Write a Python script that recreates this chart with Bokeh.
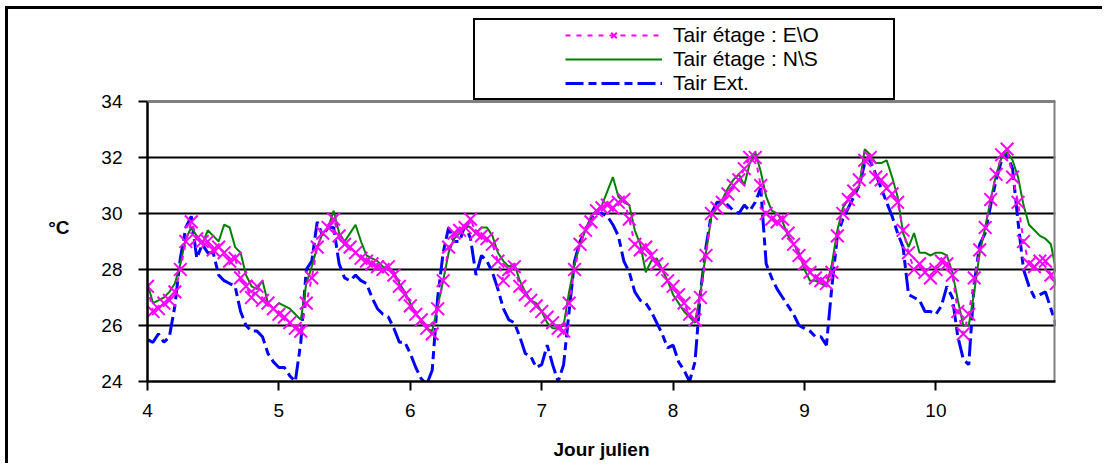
from bokeh.plotting import figure
from bokeh.layouts import column, row
from bokeh.models import (Range1d, FixedTicker, Legend, LegendItem, Span,
                          ColumnDataSource, Div, Spacer, LinearAxis)
from bokeh.embed import file_html
from bokeh.resources import INLINE

# ---------------- data (hourly readings, Jour julien 4 .. 10) ----------------
x_ticks = [4, 5, 6, 7, 8, 9, 10]
y_ticks = [24, 26, 28, 30, 32, 34]
start_day = 4

# Tair étage : E\O (hourly)
eo_d4 = [27.4, 26.5, 26.6, 26.8, 26.9, 27.2, 28.0, 29.0, 29.7, 29.1, 29.0, 29.0, 28.7, 28.8, 28.6, 28.3, 28.4, 27.7, 27.4, 27.0, 27.4, 26.9, 26.8, 26.6]
eo_d5 = [26.4, 26.3, 26.1, 25.9, 25.8, 26.8, 27.7, 28.8, 29.3, 29.5, 29.8, 29.2, 28.9, 28.8, 28.6, 28.4, 28.3, 28.2, 28.1, 28.0, 28.1, 27.8, 27.4, 27.1]
eo_d6 = [26.7, 26.4, 26.2, 25.9, 25.7, 26.6, 27.6, 28.8, 29.3, 29.4, 29.5, 29.8, 29.3, 29.2, 29.1, 28.9, 28.3, 27.6, 28.0, 28.1, 27.4, 27.1, 26.9, 26.7]
eo_d7 = [26.5, 26.3, 26.1, 25.9, 25.8, 26.8, 28.0, 28.9, 29.4, 29.7, 30.1, 30.2, 30.3, 30.2, 30.4, 30.5, 29.8, 28.9, 28.7, 28.8, 28.5, 28.2, 28.0, 27.6]
eo_d8 = [27.4, 27.1, 26.8, 26.4, 26.2, 27.0, 28.5, 30.0, 30.2, 30.4, 30.7, 31.0, 31.2, 31.6, 32.0, 32.0, 31.0, 30.0, 29.8, 29.7, 29.8, 29.3, 28.9, 28.5]
eo_d9 = [28.2, 27.9, 27.7, 27.6, 27.5, 27.9, 29.2, 30.0, 30.5, 30.8, 31.2, 31.9, 32.0, 31.3, 31.2, 30.9, 30.7, 30.4, 29.4, 28.6, 28.0, 28.2, 27.9, 27.7]
eo_d10 = [28.0, 28.3, 28.2, 27.8, 26.5, 25.7, 26.4, 27.7, 28.7, 29.5, 30.5, 31.4, 32.1, 32.3, 31.3, 30.4, 29.0, 28.2, 28.1, 28.3, 28.3, 27.8, 27.5]

# Tair étage : N\S (hourly)
ns_d4 = [27.5, 26.8, 26.9, 27.0, 27.2, 27.5, 28.2, 29.1, 29.5, 29.2, 28.9, 29.4, 29.2, 29.0, 29.6, 29.5, 28.8, 28.6, 27.8, 27.4, 27.3, 27.6, 26.8, 26.6]
ns_d5 = [26.8, 26.7, 26.6, 26.4, 26.2, 27.5, 28.1, 28.8, 29.3, 29.5, 30.1, 29.3, 29.0, 29.3, 29.6, 29.0, 28.5, 28.4, 28.3, 28.1, 28.0, 27.9, 27.5, 27.2]
ns_d6 = [26.8, 26.4, 26.2, 25.9, 25.8, 26.7, 27.6, 28.6, 29.1, 29.3, 29.6, 29.5, 29.3, 29.5, 29.5, 29.2, 28.6, 28.3, 28.1, 28.2, 27.6, 27.2, 26.9, 26.8]
ns_d7 = [26.5, 26.1, 25.9, 25.9, 26.0, 27.2, 28.2, 28.9, 29.4, 29.9, 30.1, 30.3, 30.8, 31.3, 30.6, 30.4, 30.3, 29.4, 28.9, 27.9, 28.3, 28.4, 28.0, 27.6]
ns_d8 = [27.1, 26.8, 26.5, 26.3, 26.1, 27.2, 28.6, 29.9, 30.2, 30.5, 30.9, 31.2, 31.4, 31.0, 31.8, 32.2, 31.5, 30.6, 30.1, 30.0, 29.7, 29.2, 28.9, 28.6]
ns_d9 = [28.0, 27.6, 27.6, 27.5, 27.4, 28.2, 29.4, 30.2, 30.5, 30.7, 31.0, 32.3, 32.1, 31.8, 31.8, 31.9, 31.3, 30.6, 29.3, 28.8, 29.3, 28.6, 28.6, 28.5]
ns_d10 = [28.6, 28.6, 28.5, 27.9, 26.9, 26.0, 26.0, 27.2, 28.6, 29.5, 30.5, 31.4, 32.0, 32.2, 31.9, 31.3, 30.3, 29.6, 29.4, 29.2, 29.1, 28.9, 27.9]

# Tair Ext. (hourly)
ext_d4 = [25.5, 25.4, 25.7, 25.4, 25.6, 26.7, 28.4, 29.5, 29.9, 28.4, 28.9, 28.6, 28.6, 27.8, 27.6, 27.5, 27.4, 26.5, 26.0, 25.8, 25.8, 25.6, 25.0, 24.7]
ext_d5 = [24.5, 24.5, 24.2, 24.0, 25.4, 28.0, 28.3, 29.7, 29.2, 29.5, 29.5, 28.2, 27.7, 27.6, 27.8, 27.6, 27.5, 27.0, 26.6, 26.4, 26.3, 25.9, 25.4, 25.4]
ext_d6 = [25.0, 24.5, 24.1, 23.9, 24.4, 27.0, 28.6, 29.5, 29.0, 29.0, 29.6, 29.1, 27.8, 28.5, 28.3, 27.9, 27.3, 26.6, 26.2, 26.1, 25.6, 25.0, 24.9, 24.5]
ext_d7 = [24.6, 25.3, 24.6, 24.0, 24.6, 26.5, 28.3, 29.0, 29.4, 29.8, 30.0, 30.0, 29.9, 29.6, 29.2, 28.3, 27.9, 27.2, 26.9, 26.8, 26.5, 26.1, 25.7, 25.2]
ext_d8 = [25.3, 24.7, 24.4, 24.0, 24.7, 27.2, 28.8, 30.0, 30.4, 30.4, 30.3, 30.1, 30.0, 30.3, 30.1, 30.4, 30.9, 28.2, 27.7, 27.3, 27.0, 26.7, 26.4, 26.0]
ext_d9 = [25.9, 25.8, 25.6, 25.6, 25.3, 27.4, 29.2, 29.8, 30.2, 30.6, 31.0, 31.8, 31.9, 31.4, 30.9, 30.4, 29.9, 29.3, 28.8, 27.1, 27.0, 26.9, 26.5, 26.5]
ext_d10 = [26.4, 26.7, 27.4, 27.0, 25.6, 24.8, 24.6, 27.5, 28.9, 29.3, 30.3, 31.2, 31.9, 32.1, 31.6, 29.7, 28.0, 27.4, 27.0, 27.1, 27.2, 26.6, 26.0]

label_eo = "Tair étage : E\\O"
label_ns = "Tair étage : N\\S"
label_ext = "Tair Ext."
x_title = "Jour julien"
y_title = "°C"

# ---------------- assemble ----------------
eo = eo_d4 + eo_d5 + eo_d6 + eo_d7 + eo_d8 + eo_d9 + eo_d10
ns = ns_d4 + ns_d5 + ns_d6 + ns_d7 + ns_d8 + ns_d9 + ns_d10
ext = ext_d4 + ext_d5 + ext_d6 + ext_d7 + ext_d8 + ext_d9 + ext_d10
t = [start_day + h / 24.0 for h in range(len(eo))]
src = ColumnDataSource(dict(t=t, eo=eo, ns=ns, ext=ext))

X0, X1 = 4, 10.91
Y0, Y1 = 24, 34
FONT = "Liberation Sans"

# layout (pixels): plot area 908 x 280 for the data; the frame is extended
# upward by 86 px so that the legend box above the plot area is not clipped
PLOT_H = 280.0
EXTRA_TOP = 86.0
Y_TOP = Y1 + EXTRA_TOP * (Y1 - Y0) / PLOT_H
Y_TITLE_AT = 29.5  # vertical placement of the "°C" caption

p = figure(width=1094, height=454, output_backend="svg", toolbar_location=None,
           x_range=Range1d(X0, X1), y_range=Range1d(Y0, Y_TOP),
           min_border_left=139, min_border_right=47, min_border_top=6,
           min_border_bottom=82, margin=0)
p.background_fill_color = "white"
p.border_fill_color = "white"
p.outline_line_color = None

for ax, ticks in ((p.xaxis[0], x_ticks), (p.yaxis[0], y_ticks)):
    ax.ticker = FixedTicker(ticks=ticks)
    ax.axis_line_color = "black"
    ax.axis_line_width = 2.5
    ax.major_tick_line_color = "black"
    ax.major_tick_line_width = 2
    ax.major_tick_out = 9
    ax.major_tick_in = 0
    ax.minor_tick_line_color = None
    ax.major_label_text_font = FONT
    ax.major_label_text_font_size = "19px"
    ax.major_label_text_color = "black"
    ax.axis_label_text_font = FONT
    ax.axis_label_text_font_size = "19px"
    ax.axis_label_text_font_style = "bold"
    ax.axis_label_text_color = "black"
p.yaxis.bounds = (Y0, Y1)
p.yaxis.major_label_standoff = 16
p.xaxis.major_label_standoff = 13
p.xaxis.axis_label = x_title
p.xaxis.axis_label_standoff = 19
p.xgrid.grid_line_color = None
p.ygrid.grid_line_color = "black"
p.ygrid.grid_line_width = 2

# "°C" caption as a horizontal label beside the value axis
cap_axis = LinearAxis(ticker=FixedTicker(ticks=[Y_TITLE_AT]),
                      major_label_overrides={Y_TITLE_AT: y_title},
                      axis_line_color=None, major_tick_line_color=None,
                      minor_tick_line_color=None, major_tick_out=0,
                      major_label_standoff=29, major_label_text_font=FONT,
                      major_label_text_font_size="19px",
                      major_label_text_font_style="bold",
                      major_label_text_color="black")
p.add_layout(cap_axis, "left")

# series
l_ext = p.line("t", "ext", source=src, line_color="#0000FF", line_width=3,
               line_dash="18 5 8 5")
l_ns = p.line("t", "ns", source=src, line_color="#008000", line_width=2)
l_eo = p.line("t", "eo", source=src, line_color="#FF00FF", line_width=2,
              line_dash="5 6")
s_eo = p.scatter("t", "eo", source=src, marker="x", size=18,
                 line_color="#FF00FF", line_width=2)

# plot area top/right border (grey)
p.add_layout(Span(location=Y1, dimension="width", line_color="#808080", line_width=2))
p.segment(x0=[X1], y0=[Y0], x1=[X1], y1=[Y1], line_color="#808080", line_width=4)

legend = Legend(items=[LegendItem(label=label_eo, renderers=[l_eo, s_eo]),
                       LegendItem(label=label_ns, renderers=[l_ns]),
                       LegendItem(label=label_ext, renderers=[l_ext])],
                location=(326, 281), orientation="vertical", padding=3, margin=0,
                spacing=0, glyph_width=182, glyph_height=20, label_standoff=11,
                label_width=217, label_text_font=FONT, label_text_font_size="21px",
                label_text_color="black",
                border_line_color="black", border_line_width=2, border_line_alpha=1,
                background_fill_color="white", background_fill_alpha=1)
if "title_location" in Legend.properties():
    legend.glyph_width = 97
    legend.title = " "
    legend.title_location = "left"
    legend.title_standoff = 76
    legend.title_text_font_size = "10px"
p.add_layout(legend)

# outer chart frame (left and top edges), as plain layout blocks
top_line = Div(width=1097, height=3, margin=0, styles={"background-color": "black"})
left_line = Div(width=3, height=454, margin=0, styles={"background-color": "black"})
layout = column(Spacer(width=1102, height=6, margin=0),
                row(Spacer(width=5, height=3, margin=0), top_line, margin=0, spacing=0),
                row(Spacer(width=5, height=454, margin=0), left_line, p, margin=0, spacing=0),
                margin=0, spacing=0)

open("out.html", "w").write(file_html(layout, INLINE))
